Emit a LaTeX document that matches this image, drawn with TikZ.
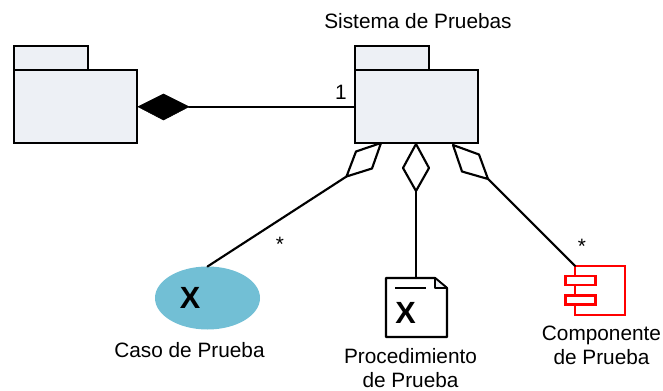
\documentclass[tikz,border=0pt]{standalone}
\usepackage{fontspec}
\setmainfont{Liberation Sans}
\usepackage{xcolor}
\usepackage{tikz}
\usetikzlibrary{shapes.geometric}
\definecolor{pkgFill}{HTML}{EDF0F5}
\definecolor{casoBlue}{HTML}{72BFD5}
\definecolor{compRed}{HTML}{FF0000}
\tikzset{
	pkgbody/.style={draw=black, fill=pkgFill, line width=1.6pt, outer sep=0pt, inner sep=0pt, minimum width=92.25pt, minimum height=55pt},
	pkgtab/.style={draw=black, fill=pkgFill, line width=1.6pt, outer sep=0pt, inner sep=0pt, minimum width=55.5pt, minimum height=18pt},
	label/.style={inner sep=0pt, align=center, font=\fontsize{15.6}{18.4}\selectfont},
	bigX/.style={inner sep=0pt, font=\fontsize{23}{24}\selectfont\bfseries},
	assoc/.style={line width=1.6pt, line cap=round},
	comppart/.style={draw=compRed, fill=white, line width=1.9pt, outer sep=0pt, inner sep=0pt, minimum width=22.5pt, minimum height=7pt}
}
\begin{document}
\begin{tikzpicture}[x=0.75pt, y=-0.75pt]
	\useasboundingbox (0, 0) rectangle (663, 391);
	% paquetes
	\node[pkgtab] (tabOtro) at (51.25, 58) {};
	\node[pkgbody] (pkgOtro) at (75.75, 106.75) {};
	\node[pkgtab] (tabSistema) at (392, 58) {};
	\node[pkgbody] (pkgSistema) at (416.5, 106.75) {};
	\node[label] (lblSistema) at (418, 21) {Sistema de Pruebas};
	% rombos
	\coordinate (A) at (138, 106.75);
	\coordinate (B) at (189, 106.75);
	\filldraw[black] (A) -- (163.5, 94) -- (B) -- (163.5, 120) -- cycle;
	\coordinate (C) at (381, 143);
	\coordinate (D) at (346.5, 176.5);
	\draw[assoc, fill=white, line join=round] (C) -- (356, 151.5) -- (D) -- (372, 168.5) -- cycle;
	\coordinate (E) at (416, 144);
	\coordinate (F) at (416, 191);
	\draw[assoc, fill=white, line join=round] (E) -- (429, 168) -- (F) -- (403, 168) -- cycle;
	\coordinate (G) at (453, 145);
	\coordinate (H) at (488, 179);
	\draw[assoc, fill=white, line join=round] (G) -- (479, 154.5) -- (H) -- (462, 171.5) -- cycle;
	% caso de prueba
	\node[ellipse, fill=casoBlue, inner sep=0pt, outer sep=0pt, minimum width=78.75pt, minimum height=47.25pt] (caso) at (207.5, 298) {};
	\node[bigX] (xCaso) at (190, 298) {X};
	\node[label] (lblCaso) at (189.5, 350) {Caso de Prueba};
	% procedimiento
	\coordinate (docTop) at (416, 278);
	\filldraw[line width=1.6pt, draw=black, fill=white, line join=round] (386, 278) -- (435, 278) -- (447, 288) -- (447, 337) -- (386, 337) -- cycle;
	\filldraw[line width=1.2pt, draw=black, fill=pkgFill, line join=round] (435, 278) -- (447, 288) -- (435, 288) -- cycle;
	\draw[line width=1.6pt] (395, 288) -- (426, 288);
	\node[bigX] (xDoc) at (405.5, 313) {X};
	\node[label] (lblDoc) at (410.5, 368) {Procedimiento\\de Prueba};
	% componente
	\node[draw=compRed, line width=1.9pt, outer sep=0pt, inner sep=0pt, minimum width=37.5pt, minimum height=37pt] (comp) at (600, 290.5) {};
	\node[comppart] (partA) at (580.75, 280.5) {};
	\node[comppart] (partB) at (580.75, 300) {};
	\node[label] (lblComp) at (601.5, 345.5) {Componente\\de Prueba};
	% asociaciones
	\draw[assoc] (B) -- (pkgSistema.west);
	\draw[assoc] (D) -- (caso.north);
	\draw[assoc] (F) -- (docTop);
	\draw[assoc] (H) -- (comp.north west);
	\node[label] (multUno) at (341, 92) {1};
	\node[label] (multCaso) at (280, 244) {*};
	\node[label] (multComp) at (582, 246) {*};
\end{tikzpicture}
\end{document}
